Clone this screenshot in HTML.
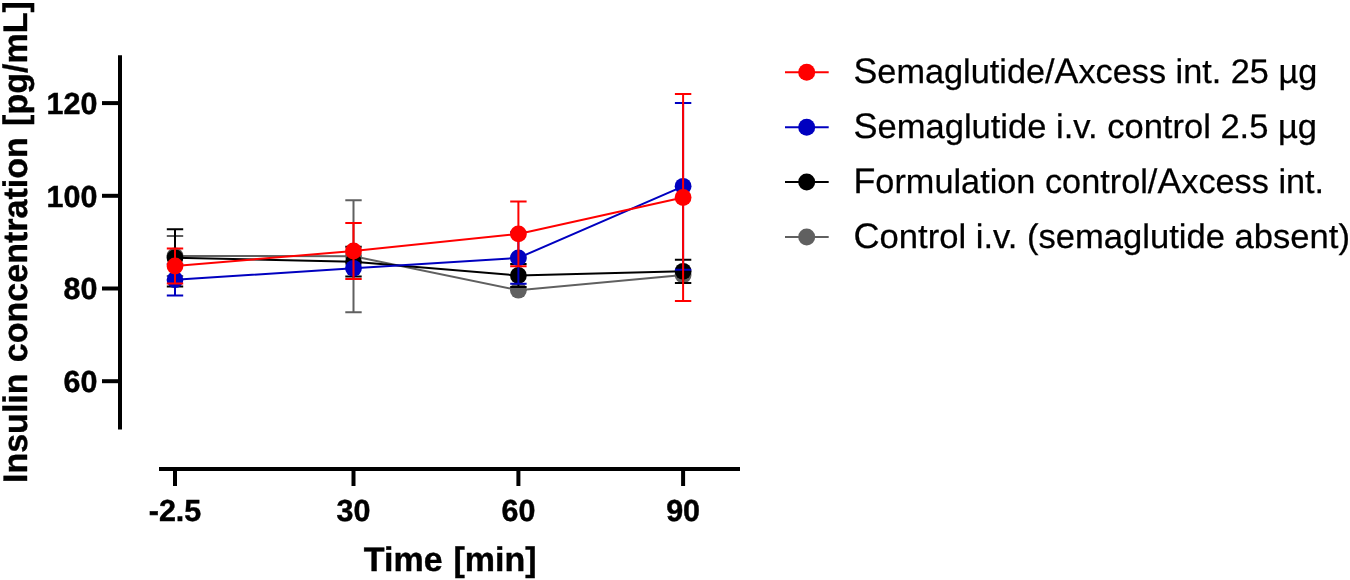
<!DOCTYPE html>
<html><head><meta charset="utf-8"><title>Insulin concentration</title>
<style>
html,body{margin:0;padding:0;background:#fff;}
body{width:1350px;height:580px;overflow:hidden;font-family:"Liberation Sans",sans-serif;}
svg{display:block;will-change:transform;}
text{text-rendering:geometricPrecision;}
</style></head>
<body>
<svg width="1350" height="580" viewBox="0 0 1350 580">
<rect width="1350" height="580" fill="#fff"/>
<g stroke="#606060" fill="#606060" stroke-width="2">
<path d="M175.0 235.9V275.9M166.8 235.9H183.2M166.8 275.9H183.2" fill="none"/>
<path d="M353.5 200.3V312.3M345.3 200.3H361.7M345.3 312.3H361.7" fill="none"/>
<polyline points="175.0,255.9 353.5,256.3 518.4,290.2 683.1,275.0" fill="none"/>
<circle cx="175.0" cy="255.9" r="8.4" stroke="none"/>
<circle cx="353.5" cy="256.3" r="8.4" stroke="none"/>
<circle cx="518.4" cy="290.2" r="8.4" stroke="none"/>
<circle cx="683.1" cy="275.0" r="8.4" stroke="none"/>
</g>
<g stroke="#000000" fill="#000000" stroke-width="2">
<path d="M175.0 229.2V286.4M166.8 229.2H183.2M166.8 286.4H183.2" fill="none"/>
<path d="M353.5 246.8V276.6M345.3 246.8H361.7M345.3 276.6H361.7" fill="none"/>
<path d="M518.4 264.1V286.9M510.2 264.1H526.6M510.2 286.9H526.6" fill="none"/>
<path d="M683.1 259.8V282.9M674.9 259.8H691.3M674.9 282.9H691.3" fill="none"/>
<polyline points="175.0,257.8 353.5,261.7 518.4,275.5 683.1,271.3" fill="none"/>
<circle cx="175.0" cy="257.8" r="8.4" stroke="none"/>
<circle cx="353.5" cy="261.7" r="8.4" stroke="none"/>
<circle cx="518.4" cy="275.5" r="8.4" stroke="none"/>
<circle cx="683.1" cy="271.3" r="8.4" stroke="none"/>
</g>
<g stroke="#0000c0" fill="#0000c0" stroke-width="2">
<path d="M175.0 264.0V295.4M166.8 264.0H183.2M166.8 295.4H183.2" fill="none"/>
<path d="M518.4 232.0V283.8M510.2 232.0H526.6M510.2 283.8H526.6" fill="none"/>
<path d="M683.1 102.9V269.7M674.9 102.9H691.3M674.9 269.7H691.3" fill="none"/>
<polyline points="175.0,279.7 353.5,268.3 518.4,257.9 683.1,186.3" fill="none"/>
<circle cx="175.0" cy="279.7" r="8.4" stroke="none"/>
<circle cx="353.5" cy="268.3" r="8.4" stroke="none"/>
<circle cx="518.4" cy="257.9" r="8.4" stroke="none"/>
<circle cx="683.1" cy="186.3" r="8.4" stroke="none"/>
</g>
<g stroke="#ff0000" fill="#ff0000" stroke-width="2">
<path d="M175.0 248.6V283.4M166.8 248.6H183.2M166.8 283.4H183.2" fill="none"/>
<path d="M353.5 223.1V278.9M345.3 223.1H361.7M345.3 278.9H361.7" fill="none"/>
<path d="M518.4 201.6V266.2M510.2 201.6H526.6M510.2 266.2H526.6" fill="none"/>
<path d="M683.1 94.0V301.0M674.9 94.0H691.3M674.9 301.0H691.3" fill="none"/>
<polyline points="175.0,266.0 353.5,251.0 518.4,233.9 683.1,197.5" fill="none"/>
<circle cx="175.0" cy="266.0" r="8.4" stroke="none"/>
<circle cx="353.5" cy="251.0" r="8.4" stroke="none"/>
<circle cx="518.4" cy="233.9" r="8.4" stroke="none"/>
<circle cx="683.1" cy="197.5" r="8.4" stroke="none"/>
</g>
<g stroke="#000" stroke-width="4" fill="none">
<path d="M120 55.3V429.4"/>
<path d="M102 103.1H120"/>
<path d="M102 195.8H120"/>
<path d="M102 288.5H120"/>
<path d="M102 381.2H120"/>
<path d="M159 469H740"/>
<path d="M175.0 469V486"/>
<path d="M353.5 469V486"/>
<path d="M518.4 469V486"/>
<path d="M683.1 469V486"/>
</g>
<g font-family="Liberation Sans, sans-serif" font-weight="bold" font-size="30.4" fill="#000" stroke="#000" stroke-width="0.45">
<text transform="translate(97.4 113.8) scale(1.0030 1)" text-anchor="end">120</text>
<text transform="translate(97.4 206.5) scale(1.0030 1)" text-anchor="end">100</text>
<text transform="translate(97.4 299.2) scale(1.0030 1)" text-anchor="end">80</text>
<text transform="translate(97.4 391.9) scale(1.0030 1)" text-anchor="end">60</text>
<text transform="translate(175.0 520.8) scale(1.0030 1)" text-anchor="middle">-2.5</text>
<text transform="translate(353.5 520.8) scale(1.0030 1)" text-anchor="middle">30</text>
<text transform="translate(518.4 520.8) scale(1.0030 1)" text-anchor="middle">60</text>
<text transform="translate(683.1 520.8) scale(1.0030 1)" text-anchor="middle">90</text>
</g>
<g font-family="Liberation Sans, sans-serif" font-weight="bold" font-size="34" fill="#000" stroke="#000" stroke-width="0.4">
<text x="363.8" y="570.7" word-spacing="1.5">Time [min]</text>
<text transform="translate(27.2 242.1) rotate(-90)" text-anchor="middle" font-size="34.04" word-spacing="1.8">Insulin concentration [pg/mL]</text>
</g>
<g font-family="Liberation Sans, sans-serif" font-size="34" fill="#000">
<path d="M785 72.3H828.7" stroke="#ff0000" stroke-width="2" fill="none"/><circle cx="806.7" cy="72.3" r="8.5" fill="#ff0000"/>
<text transform="translate(853.5 83.25) scale(1.0079 1)" stroke="#000" stroke-width="0.25"><tspan font-size="35.5">S</tspan>emaglutide/<tspan font-size="35.5">A</tspan>xcess int. 25 µg</text>
<path d="M785 127.15H828.7" stroke="#0000c0" stroke-width="2" fill="none"/><circle cx="806.7" cy="127.15" r="8.5" fill="#0000c0"/>
<text transform="translate(853.5 138.15) scale(1.0154 1)" stroke="#000" stroke-width="0.25"><tspan font-size="35.5">S</tspan>emaglutide i.v. control 2.5 µg</text>
<path d="M785 182.05H828.7" stroke="#000000" stroke-width="2" fill="none"/><circle cx="806.7" cy="182.05" r="8.5" fill="#000000"/>
<text transform="translate(853.5 192.95) scale(1.0083 1)" stroke="#000" stroke-width="0.25"><tspan font-size="35.5">F</tspan>ormulation control/<tspan font-size="35.5">A</tspan>xcess int.</text>
<path d="M785 236.9H828.7" stroke="#606060" stroke-width="2" fill="none"/><circle cx="806.7" cy="236.9" r="8.5" fill="#606060"/>
<text transform="translate(853.5 247.85) scale(1.0172 1)" stroke="#000" stroke-width="0.25"><tspan font-size="35.5">C</tspan>ontrol i.v. (semaglutide absent)</text>
</g>
</svg>
</body></html>
